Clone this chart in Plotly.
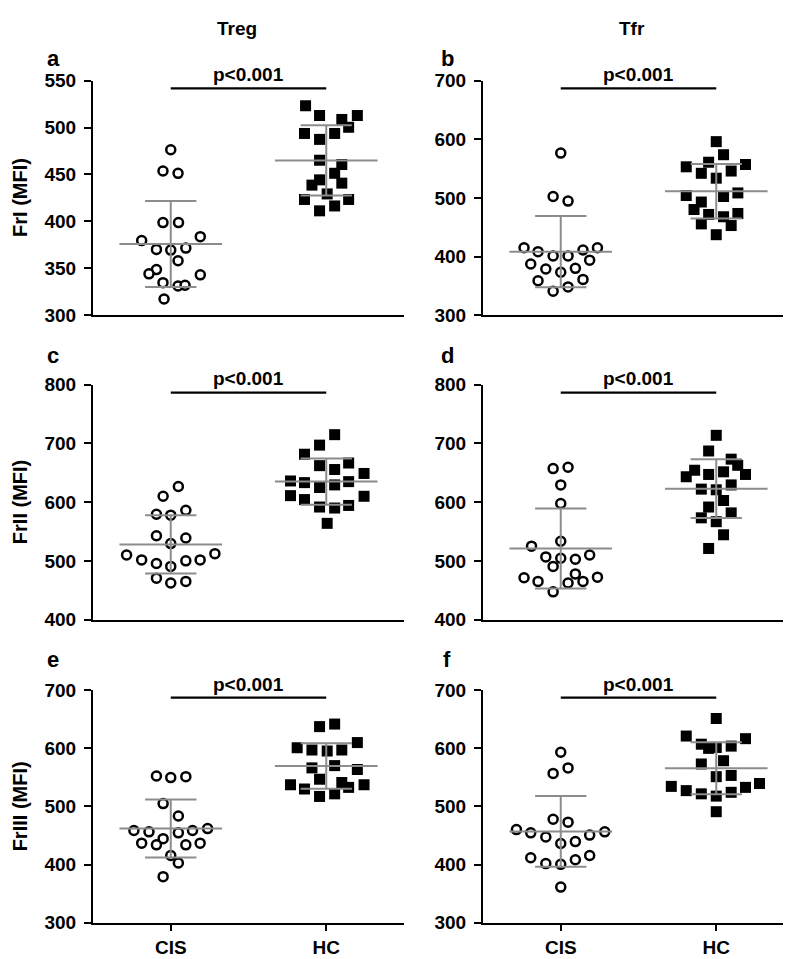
import plotly.graph_objects as go

W, H = 791, 959

# ---------------- data ----------------
groups = ["CIS", "HC"]
col_titles = ["Treg", "Tfr"]
row_titles = ["FrI (MFI)", "FrII (MFI)", "FrIII (MFI)"]
panel_letters = ["a", "b", "c", "d", "e", "f"]
p_text = "p<0.001"

# panel a: Treg FrI
a_cis = [476.3, 453.7, 451.2, 398.8, 398.8, 379.6, 383.8, 370.2, 369.5, 371.6,
         358.1, 348.7, 344.2, 343.1, 334.8, 331.3, 332.0, 317.4]
a_cis_dx = [0, -0.05, 0.047, -0.05, 0.05, -0.187, 0.19, -0.092, 0, 0.097,
            0.047, -0.092, -0.14, 0.19, -0.05, 0.047, 0.092, -0.043]
a_hc = [523.2, 512.8, 508.6, 512.8, 500.3, 493.7, 493.7, 487.4, 465.2, 460.6,
        451.3, 444.3, 438.7, 440.8, 429.3, 423.4, 423.4, 416.5, 411.3]
a_hc_dx = [-0.133, -0.043, 0.1, 0.2, 0.144, -0.14, 0.054, -0.043, -0.043, 0.1,
           0.054, -0.043, -0.092, 0.1, 0.006, -0.14, 0.144, 0.054, -0.043]

# panel b: Tfr FrI
b_cis = [576.5, 502.5, 494.7, 415.2, 408.5, 401.3, 401.3, 411.3, 415.2, 387.4,
         394.0, 379.0, 373.4, 380.1, 358.9, 361.2, 341.2, 348.4]
b_cis_dx = [0, -0.049, 0.047, -0.236, -0.146, -0.049, 0.047, 0.143, 0.236, -0.193,
            0.186, -0.096, 0, 0.094, -0.146, 0.143, -0.049, 0.047]
b_hc = [596.0, 573.7, 553.1, 560.9, 557.0, 542.0, 545.9, 533.7, 504.2, 502.5,
        508.6, 493.1, 480.3, 471.9, 468.0, 473.6, 455.8, 453.0, 437.4]
b_hc_dx = [0, 0.047, -0.193, -0.049, 0.188, -0.096, 0.096, 0, -0.193, 0.047,
           0.139, -0.096, -0.143, -0.049, 0.047, 0.139, -0.096, 0.096, 0]

# panel c: Treg FrII
c_cis = [626.7, 610.0, 579.4, 577.8, 586.1, 542.8, 538.9, 529.4, 510.0, 501.6,
         495.5, 490.5, 500.0, 501.6, 512.2, 470.5, 462.2, 465.0]
c_cis_dx = [0.049, -0.049, -0.092, 0, 0.097, -0.092, 0.097, 0, -0.284, -0.187,
            -0.092, 0, 0.097, 0.189, 0.284, -0.092, 0, 0.097]
c_hc = [715.0, 697.2, 681.7, 662.2, 655.6, 666.7, 648.9, 636.1, 633.3, 625.0,
        629.4, 635.0, 611.1, 604.4, 591.7, 590.0, 594.4, 610.0, 563.9]
c_hc_dx = [0.054, -0.043, -0.14, -0.043, 0.054, 0.144, 0.243, -0.23, -0.14, -0.043,
           0.054, 0.144, -0.23, -0.14, -0.043, 0.054, 0.144, 0.243, 0.006]

# panel d: Tfr FrII
d_cis = [657.2, 659.4, 629.4, 597.8, 533.3, 525.0, 506.7, 504.4, 502.8, 510.0,
         490.5, 471.1, 465.0, 447.2, 462.2, 477.8, 465.0, 472.2]
d_cis_dx = [-0.049, 0.047, 0, 0, 0, -0.188, -0.096, 0, 0.094, 0.186,
            -0.049, -0.236, -0.146, -0.049, 0.047, 0.094, 0.143, 0.236]
d_hc = [713.9, 687.2, 673.3, 662.8, 654.4, 643.3, 647.2, 651.7, 647.2, 622.2,
        621.1, 629.4, 602.8, 591.7, 581.7, 573.3, 566.7, 544.4, 521.1]
d_hc_dx = [0, -0.049, 0.096, 0.138, -0.139, -0.193, -0.049, 0.047, 0.188, -0.096,
           0, 0.096, 0.047, -0.049, 0.096, -0.096, 0, 0.047, -0.049]

# panel e: Treg FrIII
e_cis = [552.2, 549.4, 551.0, 504.7, 483.5, 458.4, 456.2, 444.5, 454.5, 458.4,
         461.8, 436.7, 433.9, 433.9, 436.7, 415.5, 402.6, 379.2]
e_cis_dx = [-0.092, 0, 0.097, -0.049, 0.049, -0.237, -0.14, -0.049, 0.049, 0.14,
            0.237, -0.187, -0.092, 0.097, 0.189, 0, 0.049, -0.049]
e_hc = [637.0, 641.4, 609.6, 600.7, 596.8, 595.1, 596.8, 566.1, 570.0, 563.3,
        546.6, 537.1, 529.8, 541.0, 532.6, 537.1, 517.0, 521.5]
e_hc_dx = [-0.043, 0.054, 0.2, -0.187, -0.092, 0.006, 0.1, -0.092, 0.054, 0.2,
           -0.043, -0.23, -0.14, 0.1, 0.144, 0.243, -0.043, 0.054]

# panel f: Tfr FrIII
f_cis = [592.9, 556.6, 566.1, 477.9, 472.9, 460.1, 454.5, 447.3, 436.1, 439.4,
         450.6, 456.2, 411.6, 401.6, 400.4, 408.2, 415.5, 361.3]
f_cis_dx = [0, -0.049, 0.047, -0.049, 0.047, -0.285, -0.193, -0.096, 0, 0.094,
            0.186, 0.283, -0.193, -0.096, 0, 0.094, 0.186, 0]
f_hc = [650.9, 620.8, 606.8, 599.6, 601.2, 603.5, 616.3, 572.8, 578.4, 551.0,
        553.1, 534.3, 527.0, 521.5, 517.6, 524.1, 532.6, 539.3, 490.8]
f_hc_dx = [0, -0.193, -0.096, -0.049, 0, 0.096, 0.188, -0.096, 0.047, 0,
           0.096, -0.289, -0.193, -0.096, 0, 0.096, 0.188, 0.278, 0]

# mean and SD as drawn (CIS, HC)
means = {"a": [376.0, 465.0], "b": [408.5, 511.5], "c": [528.0, 635.0],
         "d": [521.0, 623.0], "e": [462.0, 569.5], "f": [457.0, 565.5]}
sds = {"a": [45.7, 37.4], "b": [60.6, 46.5], "c": [49.5, 39.2],
       "d": [68.0, 50.0], "e": [49.7, 39.1], "f": [60.9, 44.6]}

# axis ranges and tick steps
y_ranges = {"a": [300, 550], "b": [300, 700], "c": [400, 800],
            "d": [400, 800], "e": [300, 700], "f": [300, 700]}
y_dticks = {"a": 50, "b": 100, "c": 100, "d": 100, "e": 100, "f": 100}

panels = {
    "a": (a_cis, a_cis_dx, a_hc, a_hc_dx),
    "b": (b_cis, b_cis_dx, b_hc, b_hc_dx),
    "c": (c_cis, c_cis_dx, c_hc, c_hc_dx),
    "d": (d_cis, d_cis_dx, d_hc, d_hc_dx),
    "e": (e_cis, e_cis_dx, e_hc, e_hc_dx),
    "f": (f_cis, f_cis_dx, f_hc, f_hc_dx),
}

# ---------------- layout geometry (pixels) ----------------
col_x = [(85, 396), (475, 786)]
row_y = [(64, 304), (375, 615), (687, 925)]
FONT = "Liberation Sans, Arial, sans-serif"
GRAY = "#8c8c8c"


def px_x(p):
    return p / W


def px_y(p):
    return 1 - p / H


def bfont(size):
    return dict(family=FONT, size=size, weight="bold", color="black")


fig = go.Figure()
layout = dict(width=W, height=H, margin=dict(l=0, r=0, t=0, b=0),
              paper_bgcolor="white", plot_bgcolor="white", showlegend=False,
              font=dict(family=FONT, color="black"))
annotations = []
shapes = []

for idx, key in enumerate(panel_letters):
    r, c = divmod(idx, 2)
    n = idx + 1
    xa = "x" if n == 1 else f"x{n}"
    ya = "y" if n == 1 else f"y{n}"
    xname = "xaxis" if n == 1 else f"xaxis{n}"
    yname = "yaxis" if n == 1 else f"yaxis{n}"
    x0, x1 = col_x[c]
    yt, yb = row_y[r]
    bottom = (r == 2)

    layout[xname] = dict(domain=[px_x(x0), px_x(x1)], range=[-0.5, 1.5], anchor=ya,
                         tickvals=[0, 1], ticktext=[f"<b>{g}</b>" for g in groups],
                         showticklabels=bottom, ticks="outside" if bottom else "",
                         ticklen=6, tickwidth=2, tickcolor="black",
                         ticklabelstandoff=0,
                         showline=True, linecolor="black", linewidth=2,
                         showgrid=False, zeroline=False, fixedrange=True,
                         tickfont=bfont(19))
    layout[yname] = dict(domain=[px_y(yb), px_y(yt)], range=y_ranges[key], anchor=xa,
                         dtick=y_dticks[key], tick0=0, ticks="outside", ticklen=7,
                         tickwidth=2, tickcolor="black", showline=True,
                         ticklabelstandoff=4,
                         linecolor="black", linewidth=2, showgrid=False,
                         zeroline=False, fixedrange=True, tickprefix="<b>",
                         ticksuffix="</b>", tickfont=bfont(19))

    cis, cis_dx, hc, hc_dx = panels[key]
    fig.add_trace(go.Scatter(x=[0 + d for d in cis_dx], y=cis, mode="markers",
                             xaxis=xa, yaxis=ya, cliponaxis=False,
                             marker=dict(symbol="circle", size=9, color="white",
                                         line=dict(color="black", width=2.5))))
    fig.add_trace(go.Scatter(x=[1 + d for d in hc_dx], y=hc, mode="markers",
                             xaxis=xa, yaxis=ya, cliponaxis=False,
                             marker=dict(symbol="square", size=11, color="black",
                                         line=dict(width=0))))
    # mean +- SD
    for g in range(2):
        m, s = means[key][g], sds[key][g]
        xs = [g - 0.33, g + 0.33, None, g, g, None, g - 0.165, g + 0.165, None,
              g - 0.165, g + 0.165]
        ys = [m, m, None, m - s, m + s, None, m + s, m + s, None, m - s, m - s]
        fig.add_trace(go.Scatter(x=xs, y=ys, mode="lines", xaxis=xa, yaxis=ya,
                                 line=dict(color=GRAY, width=2), hoverinfo="skip"))

    # significance bar
    shapes.append(dict(type="line", xref=xa, yref=f"{ya} domain", x0=0, x1=1,
                       y0=1 - 8 / 240, y1=1 - 8 / 240,
                       line=dict(color="black", width=2.2)))
    annotations.append(dict(text=f"<b>{p_text}</b>", xref=xa, yref="paper", x=0.5,
                            y=px_y(yt - 6), yanchor="middle", xanchor="center",
                            showarrow=False, font=bfont(19)))
    # panel letter
    lx = 45 if c == 0 else 439
    ly = [41, 345, 656][r]
    annotations.append(dict(text=f"<b>{key}</b>", xref="paper", yref="paper", x=px_x(lx),
                            y=px_y(ly), xanchor="center", yanchor="middle",
                            showarrow=False, font=bfont(22)))

# row titles (y axis labels)
for r in range(3):
    yt, yb = row_y[r]
    annotations.append(dict(text=f"<b>{row_titles[r]}</b>", xref="paper", yref="paper",
                            x=px_x(12), y=px_y((yt + yb) / 2), textangle=-90,
                            xanchor="center", yanchor="middle", showarrow=False,
                            font=bfont(20)))
# column titles
for c, tx in enumerate([229, 624]):
    annotations.append(dict(text=f"<b>{col_titles[c]}</b>", xref="paper", yref="paper",
                            x=px_x(tx), y=px_y(11), xanchor="center", yanchor="middle",
                            showarrow=False, font=bfont(19)))

layout["annotations"] = annotations
layout["shapes"] = shapes
fig.update_layout(**layout)
fig.write_html("out.html")
